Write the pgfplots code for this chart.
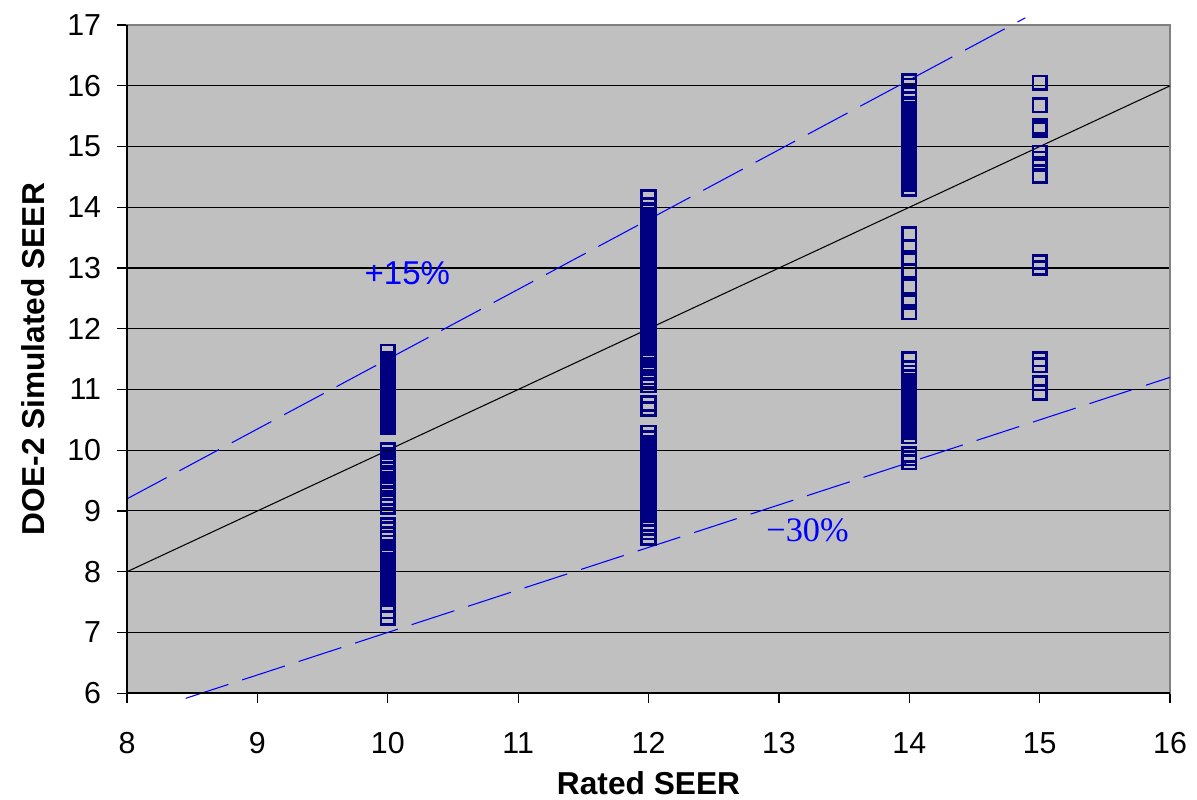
\documentclass[border=0pt]{standalone}
\usepackage{pgfplots}
\pgfplotsset{compat=1.18}
\usepackage{fontspec}
\setmainfont{Liberation Sans}
\newfontfamily\timesfont{Liberation Serif}
\usetikzlibrary{calc}
\definecolor{navy}{RGB}{0,0,128}
\definecolor{plotbg}{RGB}{192,192,192}
\definecolor{bord}{RGB}{128,128,128}
\definecolor{dblue}{RGB}{0,0,255}
\begin{document}
\begin{tikzpicture}
\begin{axis}[
  name=ax,
  scale only axis,
  width=395pt, height=253pt,
  xmin=8, xmax=16, ymin=6, ymax=17,
  xtick={8,...,16}, ytick={6,...,17},
  xtick pos=bottom, ytick pos=left,
  tick align=outside,
  major tick length=3.8pt,
  tick style={black, line width=0.5pt},
  axis line style={bord, line width=0.9pt},
  axis background/.style={fill=plotbg},
  ymajorgrids,
  grid style={black, line width=0.4pt},
  /pgf/number format/assume math mode=true,
  ticklabel style={font=\fontsize{11.5}{13}\selectfont},
  xticklabel style={yshift=-7.5pt},
  yticklabel style={xshift=-2.5pt},
  clip=false,
]
\addplot[black, line width=0.4pt] coordinates {(8,8) (16,16)};
\addplot[dblue, line width=0.4pt, dash pattern=on 17pt off 5.5pt] coordinates {(8,9.2) (14.89,17.12)};
\addplot[dblue, line width=0.4pt, dash pattern=on 17pt off 5.5pt] coordinates {(8.45,5.915) (16,11.2)};
\addplot[only marks, mark=square, mark size=2.55pt, mark options={navy, line width=1pt}] coordinates {
(10,10.39)(10,10.42)(10,10.45)(10,10.48)(10,10.51)(10,10.54)(10,10.57)(10,10.6)(10,10.63)(10,10.66)(10,10.69)(10,10.72)(10,10.75)(10,10.78)(10,10.81)(10,10.84)(10,10.87)(10,10.9)(10,10.93)(10,10.96)(10,10.99)(10,11.02)(10,11.05)(10,11.08)(10,11.11)(10,11.14)(10,11.17)(10,11.2)(10,11.23)(10,11.26)(10,11.29)(10,11.32)(10,11.35)(10,11.38)(10,11.41)(10,11.44)(10,11.47)(10,11.5)(10,11.62)
(10,9.07)(10,9.15)(10,9.22)(10,9.3)(10,9.36)(10,9.42)(10,9.5)(10,9.6)(10,9.68)(10,9.75)(10,9.8)(10,9.85)(10,9.92)(10,10.0)
(10,7.24)(10,7.35)(10,7.45)(10,7.55)(10,7.62)(10,7.72)(10,7.8)(10,7.85)(10,7.9)(10,7.95)(10,8.0)(10,8.05)(10,8.1)(10,8.15)(10,8.2)(10,8.25)(10,8.3)(10,8.35)(10,8.4)(10,8.48)(10,8.55)(10,8.62)(10,8.7)(10,8.77)
(12,14.17)(12,14.03)(12,13.93)(12,13.88)(12,13.84)(12,13.8)(12,13.76)(12,13.72)(12,13.68)(12,13.64)(12,13.6)(12,13.56)(12,13.52)(12,13.48)(12,13.44)(12,13.4)(12,13.36)(12,13.32)(12,13.28)(12,13.24)(12,13.2)(12,13.16)(12,13.12)(12,13.08)(12,13.04)(12,13.0)(12,12.96)(12,12.92)(12,12.88)(12,12.84)(12,12.8)(12,12.76)(12,12.72)(12,12.68)(12,12.64)(12,12.6)(12,12.56)(12,12.52)(12,12.48)(12,12.44)(12,12.4)(12,12.36)(12,12.32)(12,12.28)(12,12.24)(12,12.2)(12,12.15)(12,12.1)(12,12.05)(12,12.0)(12,11.93)(12,11.86)(12,11.8)(12,11.74)(12,11.68)(12,11.6)(12,11.55)(12,11.48)(12,11.4)(12,11.35)(12,11.28)(12,11.2)(12,11.14)(12,11.07)
(12,10.68)(12,10.77)
(12,10.29)(12,10.2)(12,10.12)(12,10.05)(12,10.0)(12,9.96)(12,9.92)(12,9.88)(12,9.84)(12,9.8)(12,9.76)(12,9.72)(12,9.68)(12,9.64)(12,9.6)(12,9.56)(12,9.52)(12,9.48)(12,9.44)(12,9.4)(12,9.36)(12,9.32)(12,9.28)(12,9.24)(12,9.2)(12,9.16)(12,9.12)(12,9.08)(12,9.04)(12,9.0)(12,8.95)(12,8.88)(12,8.8)(12,8.72)(12,8.65)(12,8.56)
(14,16.08)(14,16.0)(14,15.92)
(14,15.67)(14,15.62)(14,15.58)(14,15.54)(14,15.5)(14,15.46)(14,15.42)(14,15.36)(14,15.28)(14,15.22)(14,15.18)(14,15.14)(14,15.1)(14,15.06)(14,15.02)(14,14.98)(14,14.94)(14,14.9)(14,14.86)(14,14.8)(14,14.74)(14,14.7)(14,14.66)(14,14.62)(14,14.58)(14,14.54)(14,14.5)(14,14.46)(14,14.42)(14,14.38)(14,14.3)
(14,13.56)(14,13.34)(14,13.16)(14,12.95)(14,12.69)(14,12.44)(14,12.27)
(14,11.5)(14,11.35)(14,11.2)(14,11.14)(14,11.1)(14,11.06)(14,11.02)(14,10.98)(14,10.94)(14,10.9)(14,10.86)(14,10.82)(14,10.78)(14,10.74)(14,10.7)(14,10.63)(14,10.57)(14,10.5)(14,10.45)(14,10.4)(14,10.35)(14,10.3)(14,10.23)
(14,9.93)(14,9.87)(14,9.8)
(15,16.05)(15,15.68)(15,15.33)(15,15.28)(15,14.9)(15,14.8)(15,14.72)(15,14.52)
(15,13.1)(15,13.0)
(15,11.5)(15,11.4)(15,11.1)(15,10.95)
};
\node[dblue, font=\fontsize{12.5}{14}\selectfont] at (axis cs:10.15,12.92) {+15\%};
\node[dblue, font=\timesfont\fontsize{13}{15}\selectfont] at (axis cs:13.22,8.68) {\char"2212 30\%};
\end{axis}
\draw[black, line width=0.7pt] (ax.north west) -- (ax.south west) -- (ax.south east);
\node[rotate=90, font=\bfseries\fontsize{12}{14}\selectfont] at ($(ax.west)+(-35.6pt,0)$) {DOE-2 Simulated SEER};
\node[font=\bfseries\fontsize{12}{14}\selectfont] at ($(ax.south)+(0,-34pt)$) {Rated SEER};
\pgfresetboundingbox
\path[use as bounding box] ($(ax.south west)+(-48.1pt,-40.2pt)$) rectangle ($(ax.north east)+(10.2pt,9.5pt)$);
\end{tikzpicture}
\end{document}
